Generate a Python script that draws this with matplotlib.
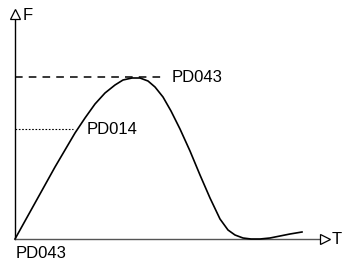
import matplotlib.pyplot as plt

plt.rcParams['font.family'] = ['Liberation Sans', 'DejaVu Sans']

# curve of force F over time T
t = [0, 10, 20, 30, 40, 50, 60, 70, 80, 90, 100, 108, 117, 125, 133,
     140, 148, 156, 165, 175, 185, 195, 205, 213, 220, 228, 236, 245,
     255, 265, 275, 287]
F = [0, 18, 36, 54, 72, 89, 106, 121, 135, 146, 154, 159, 161, 161, 158,
     152, 142, 128, 110, 88, 64, 41, 20, 9, 4, 1, 0, 0, 1, 3, 5, 7]

peak_level = 162   # PD043
hold_level = 110   # PD014
peak_end = 148
hold_end = 58

fig = plt.figure(figsize=(3.42, 2.59), dpi=100)
ax = fig.add_axes([0, 0, 1, 1])
ax.set_xlim(-15, 327)
ax.set_ylim(-20, 239)
ax.axis('off')

# axes with hollow arrow heads
ax.plot([0, 0], [0, 221], color='black', lw=1)
ax.plot([0, 307], [0, 0], color='#555555', lw=1)
ax.plot(0, 225, marker='^', ms=7, mfc='white', mec='black', mew=0.9)
ax.plot(310, 0, marker='>', ms=7, mfc='white', mec='black', mew=0.9)
ax.text(8, 224, 'F', fontsize=12, va='center', ha='left')
ax.text(317, 0, 'T', fontsize=12, va='center', ha='left')

ax.plot([0, peak_end], [peak_level, peak_level], color='black', lw=1.1,
        dashes=(5, 4))
ax.plot([0, hold_end], [hold_level, hold_level], color='black', lw=0.8,
        ls=(0, (1.5, 1.5)))
ax.plot(t, F, color='black', lw=1.2)

ax.text(157, peak_level, 'PD043', fontsize=12, va='center', ha='left')
ax.text(72, hold_level, 'PD014', fontsize=12, va='center', ha='left')
ax.text(1, -14, 'PD043', fontsize=12, va='center', ha='left')

fig.savefig('out.png', dpi=100)
